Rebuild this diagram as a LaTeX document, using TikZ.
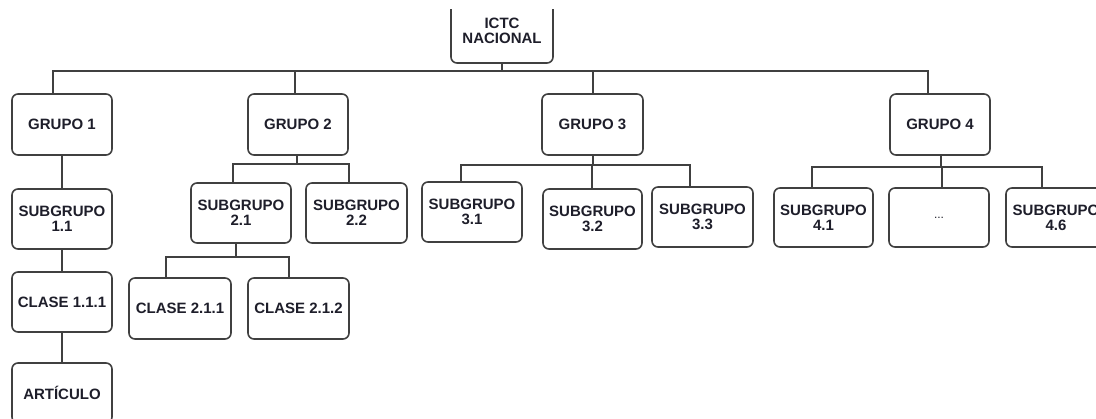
\documentclass[tikz,border=0pt]{standalone}
\usepackage{fontspec}
\setmainfont{Liberation Sans}
\definecolor{linec}{HTML}{404040}
\definecolor{textc}{HTML}{1E1E2A}
\begin{document}
\begin{tikzpicture}[x=1pt,y=-1pt,
  box/.style={draw=linec, line width=1.6pt, rounded corners=6pt, fill=white,
    minimum width=100pt, minimum height=60pt, inner sep=0pt, align=center,
    font=\fontsize{15}{15}\selectfont\bfseries, text=textc},
  conn/.style={draw=linec, line width=1.5pt}]
\useasboundingbox (0,0) rectangle (1096,419);
\clip (0,10) rectangle (1096,419);
% nodes
\node[box, minimum width=102pt, minimum height=64pt] (ictc) at (502,31) {ICTC\\NACIONAL};
\node[box, minimum height=61pt] (g1) at (62,124.5) {GRUPO 1};
\node[box, minimum height=61pt] (g2) at (298,124.5) {GRUPO 2};
\node[box, minimum height=61pt, minimum width=101pt] (g3) at (592.5,124.5) {GRUPO 3};
\node[box, minimum height=61pt] (g4) at (940,124.5) {GRUPO 4};
\node[box] (s11) at (62,219) {SUBGRUPO\\1.1};
\node[box] (c111) at (62,302) {CLASE 1.1.1};
\node[box] (art) at (62,393) {ARTÍCULO};
\node[box] (s21) at (241,213) {SUBGRUPO\\2.1};
\node[box, minimum width=101pt] (s22) at (356.5,213) {SUBGRUPO\\2.2};
\node[box, minimum width=102pt, minimum height=61pt] (c211) at (180,308.5) {CLASE 2.1.1};
\node[box, minimum width=101pt, minimum height=61pt] (c212) at (298.5,308.5) {CLASE 2.1.2};
\node[box] (s31) at (472,212) {SUBGRUPO\\3.1};
\node[box, minimum width=99pt] (s32) at (592.5,219) {SUBGRUPO\\3.2};
\node[box, minimum width=101pt] (s33) at (702.5,217) {SUBGRUPO\\3.3};
\node[box, minimum width=99pt, minimum height=59pt] (s41) at (823.5,217.5) {SUBGRUPO\\4.1};
\node[box, minimum height=59pt] (dots) at (939,217.5) {\fontsize{12}{12}\selectfont\mdseries ...};
\node[box, minimum height=59pt] (s46) at (1056,217.5) {SUBGRUPO\\4.6};
% bus coordinates
\coordinate (bus) at (0,71);
\coordinate (b2) at (0,164);
\coordinate (b21) at (0,257);
\coordinate (b3) at (0,165);
\coordinate (b4) at (0,167);
% top level
\draw[conn] (ictc.south) -- (ictc.south |- bus);
\draw[conn] ([xshift=-9pt]g1.north) |- ([xshift=-12pt]g4.north |- bus) -- ([xshift=-12pt]g4.north);
\draw[conn] ([xshift=-3pt]g2.north) -- ([xshift=-3pt]g2.north |- bus);
\draw[conn] ([xshift=0.5pt]g3.north) -- ([xshift=0.5pt]g3.north |- bus);
% group 1
\draw[conn] (g1.south) -- (s11.north);
\draw[conn] (s11.south) -- (c111.north);
\draw[conn] (c111.south) -- (art.north);
% group 2
\draw[conn] ([xshift=-1pt]g2.south) -- ([xshift=-1pt]g2.south |- b2);
\draw[conn] ([xshift=-8pt]s21.north) |- ([xshift=-7.5pt]s22.north |- b2) -- ([xshift=-7.5pt]s22.north);
\draw[conn] ([xshift=-5pt]s21.south) -- ([xshift=-5pt]s21.south |- b21);
\draw[conn] ([xshift=-14pt]c211.north) |- ([xshift=-9.5pt]c212.north |- b21) -- ([xshift=-9.5pt]c212.north);
% group 3
\draw[conn] ([xshift=0.5pt]g3.south) -- ([xshift=0.5pt]g3.south |- b3);
\draw[conn] ([xshift=-11pt]s31.north) |- ([xshift=-12.5pt]s33.north |- b3) -- ([xshift=-12.5pt]s33.north);
\draw[conn] ([xshift=-0.5pt]s32.north) -- ([xshift=-0.5pt]s32.north |- b3);
% group 4
\draw[conn] ([xshift=1pt]g4.south) -- ([xshift=1pt]g4.south |- b4);
\draw[conn] ([xshift=-11.5pt]s41.north) |- ([xshift=-14pt]s46.north |- b4) -- ([xshift=-14pt]s46.north);
\draw[conn] ([xshift=3pt]dots.north) -- ([xshift=3pt]dots.north |- b4);
\end{tikzpicture}
\end{document}
